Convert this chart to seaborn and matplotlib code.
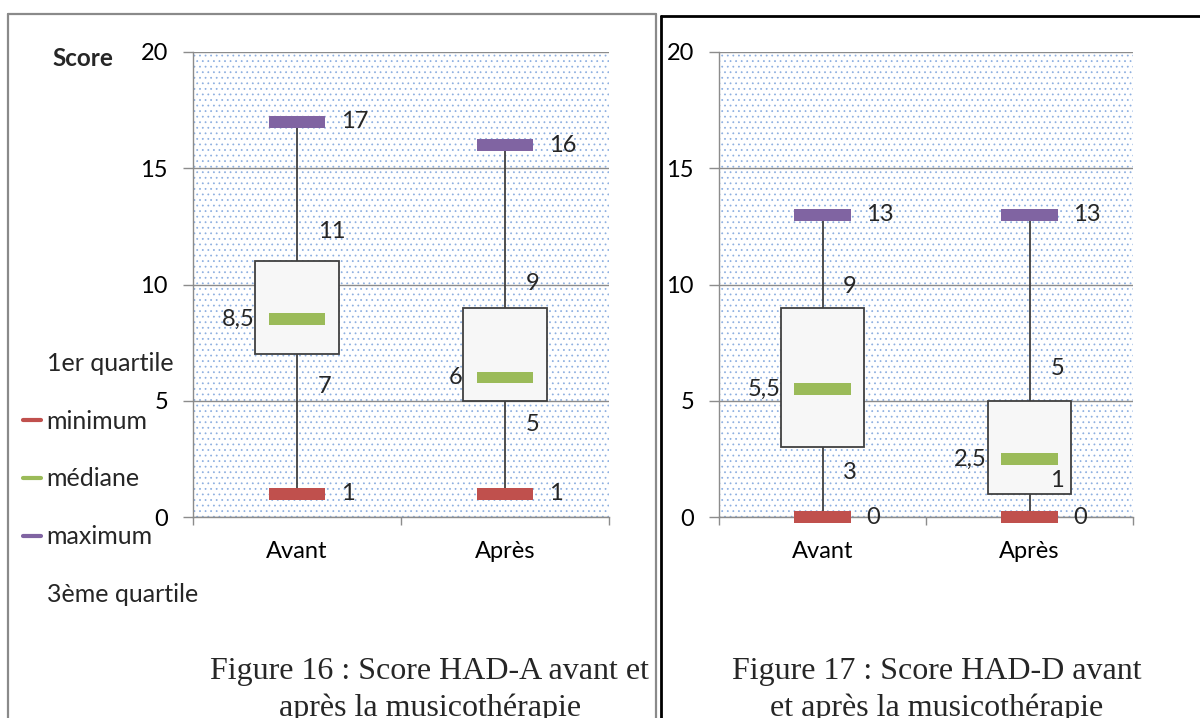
import pandas as pd
import seaborn as sns
import matplotlib.pyplot as plt
from matplotlib.lines import Line2D
from matplotlib.patches import Rectangle

sns.set_theme(style='white')
plt.rcParams['font.family'] = ['Lato', 'DejaVu Sans']
plt.rcParams['hatch.linewidth'] = 0.55

categories = ['Avant', 'Après']
stat_names = ['minimum', 'médiane', 'maximum']
legend_labels = ['1er quartile', 'minimum', 'médiane', 'maximum', '3ème quartile']

# HAD-A (figure 16)
had_a_min = [1, 1]
had_a_q1 = [7, 5]
had_a_med = [8.5, 6]
had_a_q3 = [11, 9]
had_a_max = [17, 16]

# HAD-D (figure 17)
had_d_min = [0, 0]
had_d_q1 = [3, 1]
had_d_med = [5.5, 2.5]
had_d_q3 = [9, 5]
had_d_max = [13, 13]

captions = ['Figure 16 : Score HAD-A avant et\naprès la musicothérapie',
            'Figure 17 : Score HAD-D avant\net après la musicothérapie']

colors = {'minimum': '#C0504D', 'médiane': '#9BBB59', 'maximum': '#8064A2'}
GREY = '#8C8C8C'
W, H = 1200, 718
BAR = [(-1, -0.21), (1, -0.21), (1, 0.21), (-1, 0.21), (-1, -0.21)]


def fmt(v):
    return ('%g' % v).replace('.', ',')


def five_numbers(mins, q1s, meds, q3s, maxs):
    rows = []
    for i, cat in enumerate(categories):
        for v in (mins[i], q1s[i], meds[i], q3s[i], maxs[i]):
            rows.append({'moment': cat, 'score': v})
    return pd.DataFrame(rows)


def bar_markers(mins, meds, maxs):
    return pd.DataFrame({
        'moment': categories * 3,
        'score': list(mins) + list(meds) + list(maxs),
        'stat': [s for s in stat_names for _ in categories],
    })


def draw_panel(ax, mins, q1s, meds, q3s, maxs, q3_off, q1_off):
    ax.add_patch(Rectangle((0, 0), 1, 1, transform=ax.transAxes,
                           facecolor='none', edgecolor='#8DAFE0',
                           hatch='...', lw=0, zorder=0.5))
    sns.boxplot(data=five_numbers(mins, q1s, meds, q3s, maxs),
                x='moment', y='score', order=categories, whis=(0, 100),
                width=0.4, color='#F7F7F7', saturation=1, linecolor='#404040',
                linewidth=1.3, showcaps=False, medianprops={'visible': False},
                ax=ax)
    sns.stripplot(data=bar_markers(mins, meds, maxs), x='moment', y='score',
                  hue='stat', order=categories, hue_order=stat_names,
                  palette=colors, jitter=False, dodge=False, marker=BAR,
                  size=41, linewidth=0, legend=False, ax=ax, zorder=5,
                  clip_on=False)
    for i in range(len(categories)):
        ax.text(i + 0.21, maxs[i], fmt(maxs[i]), ha='left', va='center', fontsize=17)
        ax.text(i + 0.21, mins[i], fmt(mins[i]), ha='left', va='center', fontsize=17)
        ax.text(i - 0.205, meds[i], fmt(meds[i]), ha='right', va='center', fontsize=17)
        ax.text(i + 0.1, q3s[i] + q3_off[i], fmt(q3s[i]), ha='left', va='center', fontsize=17)
        ax.text(i + 0.1, q1s[i] + q1_off[i], fmt(q1s[i]), ha='left', va='center', fontsize=17)

    ax.set_xlim(-0.5, 1.5)
    ax.set_ylim(0, 20)
    ax.set_yticks([0, 5, 10, 15, 20])
    ax.set_xticks([-0.5, 0.5, 1.5], minor=True)
    ax.yaxis.grid(True, color=GREY, lw=1)
    ax.set_axisbelow(True)
    ax.set_xlabel('')
    ax.set_ylabel('')
    for side in ('top', 'right'):
        ax.spines[side].set_visible(False)
    for side in ('left', 'bottom'):
        ax.spines[side].set_color(GREY)
        ax.spines[side].set_linewidth(1)
    ax.tick_params(axis='y', left=True, length=7, color=GREY, width=1,
                   pad=11, labelsize=17, labelcolor='black')
    ax.tick_params(axis='x', which='major', length=0, pad=17, labelsize=17,
                   labelcolor='black')
    ax.tick_params(axis='x', which='minor', bottom=True, length=6,
                   color=GREY, width=1)


fig = plt.figure(figsize=(12, 7.18), dpi=100)
ax1 = fig.add_axes([193 / W, 1 - 517 / H, 416 / W, 465 / H])
ax2 = fig.add_axes([719 / W, 1 - 517 / H, 414 / W, 465 / H])

draw_panel(ax1, had_a_min, had_a_q1, had_a_med, had_a_q3, had_a_max,
           q3_off=[1.26, 1.06], q1_off=[-1.37, -1.04])
draw_panel(ax2, had_d_min, had_d_q1, had_d_med, had_d_q3, had_d_max,
           q3_off=[0.9, 1.4], q1_off=[-1.1, 0.55])

fig.text(52 / W, 1 - 58 / H, 'Score', fontsize=17.5, fontweight='bold',
         ha='left', va='center')

handles = [Line2D([], [], color='none'),
           Line2D([], [], color=colors['minimum'], lw=3),
           Line2D([], [], color=colors['médiane'], lw=3),
           Line2D([], [], color=colors['maximum'], lw=3),
           Line2D([], [], color='none')]
fig.legend(handles, legend_labels, loc='upper left',
           bbox_to_anchor=(23 / W, 1 - 352 / H), frameon=False, fontsize=18,
           handlelength=0.7, handletextpad=0.25, labelspacing=1.39,
           borderpad=0, borderaxespad=0)

# the second caption line runs into the bottom edge, as in the page scan
for x, text in zip([430, 937], captions):
    fig.text(x / W, 1 - 657 / H, text, ha='center', va='top', fontsize=23,
             family='Liberation Serif', linespacing=1.32)


def frame_line(x0, y0, x1, y1, **kw):
    fig.add_artist(Line2D([x0 / W, x1 / W], [1 - y0 / H, 1 - y1 / H],
                          transform=fig.transFigure, **kw))


frame_line(8, 14, 8, 718, color='#8A8A8A', lw=1.6)
frame_line(8, 14, 656, 14, color='#8A8A8A', lw=1.6)
frame_line(656, 14, 656, 718, color='#8A8A8A', lw=1.6)
frame_line(661, 16, 661, 718, color='black', lw=2)
frame_line(661, 16, 1200, 16, color='black', lw=2)

fig.savefig('out.png', dpi=100)
plt.close()
